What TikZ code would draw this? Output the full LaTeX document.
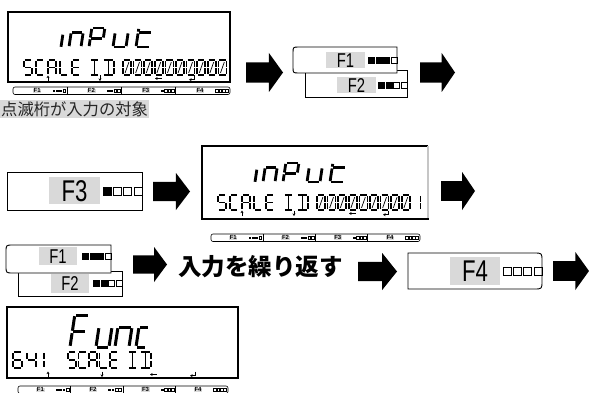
\documentclass[tikz,border=0pt]{standalone}
\usepackage{fontspec}
\setmainfont{Liberation Sans}
\newfontfamily\narrowf[FakeStretch=0.74]{Liberation Sans}
\newfontfamily\jpf{Noto Sans CJK JP}
\usetikzlibrary{arrows.meta}
\tikzset{
  seg/.style={line width=1.7pt},
  bigfont/.style={xslant=0.15, seg/.style={line width=2.8pt}},
  hugefont/.style={xslant=0.15, seg/.style={line width=3pt}},
  keyline/.style={draw=black, line width=0.9pt},
  keyfill/.style={fill=white, draw=none},
  keytext/.style={font=\narrowf\fontsize{30}{30}\selectfont, inner sep=0pt},
  keytextsm/.style={font=\narrowf\fontsize{20}{20}\selectfont, inner sep=0pt},
  dframe/.style={line width=1.2pt},
  dbottom/.style={line width=2pt},
  kar/.style={line width=0.8pt, -{Stealth[length=2.6pt,width=3pt]}},
  stripline/.style={line width=0.6pt},
  striptext/.style={font=\bfseries\fontsize{6}{6}\selectfont, fill=gray!30, inner xsep=0.6pt, inner ysep=0.3pt},
}
% LCD segments (local coords, y up, origin bottom-left)
\newcommand\sgA{\draw[seg] (\segG,\segH)--(\segW-\segG,\segH);}
\newcommand\sgB{\draw[seg] (\segW,\segH-\segG)--(\segW,\segR*\segH+\segG);}
\newcommand\sgC{\draw[seg] (\segW,\segR*\segH-\segG)--(\segW,\segG);}
\newcommand\sgD{\draw[seg] (\segG,0)--(\segW-\segG,0);}
\newcommand\sgE{\draw[seg] (0,\segG)--(0,\segR*\segH-\segG);}
\newcommand\sgF{\draw[seg] (0,\segR*\segH+\segG)--(0,\segH-\segG);}
\newcommand\sgG{\draw[seg] (\segG,\segR*\segH)--(\segW-\segG,\segR*\segH);}
\newcommand\sgM{\draw[seg] (\segW/2,\segG)--(\segW/2,\segH-\segG);}
\newcommand\sgK{\draw[seg,line width=0.7pt] (\segG+1.2,\segG+1.2)--(\segW-\segG-1.2,\segH-\segG-1.2);}
\newcommand\lcd[6][]{\begin{scope}[shift={(#2,#3)},x=1pt,y=1pt,#1]%
  \def\segW{#4}\def\segH{#5}\def\segR{0.5}\def\segG{0.9}#6\end{scope}}
\newcommand\chS{\sgA\sgF\sgG\sgC\sgD}
\newcommand\chC{\sgA\sgF\sgE\sgD}
\newcommand\chA{\sgA\sgB\sgC\sgE\sgF\sgG}
\newcommand\chL{\sgF\sgE\sgD}
\newcommand\chE{\sgA\sgF\sgG\sgE\sgD}
\newcommand\chI{\sgA\sgD\sgM}
\newcommand\chD{\sgA\sgB\sgC\sgD\sgM}
\newcommand\chZ{\sgA\sgB\sgC\sgD\sgE\sgF\sgK}
\newcommand\chOne{\sgB\sgC}
\newcommand\chSix{\sgA\sgF\sgG\sgE\sgD\sgC}
\newcommand\chFour{\sgF\sgG\sgB\sgC}
% small key arrows: up, down, left, enter at x positions, y centre
\newcommand\keyarrows[5]{%
  \draw[kar] (#1,#5+2.5) -- (#1,#5-3);
  \draw[kar] (#2,#5-3) -- (#2,#5+2.5);
  \draw[kar] (#3+3.5,#5) -- (#3-3,#5);
  \draw[kar] (#4+2.5,#5-3) -- (#4+2.5,#5+1.2) -- (#4-3,#5+1.2);}
% display content "inPut / SCALE ID digits"
\newcommand\inputcontent[1]{%
  \lcd[bigfont]{61}{47}{0}{12.5}{\def\segR{1}\def\segG{0.2}\sgE}
  \lcd[bigfont]{69}{47}{12}{14.5}{\def\segR{1}\sgA\sgC\sgE}
  \lcd[bigfont]{89}{47}{13}{19}{\def\segR{0.45}\sgA\sgB\sgF\sgE\sgG}
  \lcd[bigfont]{113}{47}{13}{14.5}{\def\segR{1}\sgC\sgE\sgD}
  \lcd[bigfont]{136}{47}{14}{19}{\def\segR{0.76}\sgF\sgE\sgG\sgD}
  \lcd{24}{75}{8}{15}{\chS}
  \lcd{36}{75}{8}{15}{\chC}
  \lcd{48}{75}{8}{15}{\chA}
  \lcd{60}{75}{8}{15}{\chL}
  \lcd{72}{75}{8}{15}{\chE}
  \lcd{90}{75}{9}{15}{\chI}
  \lcd{103}{75}{11}{15}{\chD}
  \foreach \qq in {0,...,8}{\lcd{123+\qq*10.6}{75}{8}{15}{\chZ}}
  \lcd{218.4}{75}{8}{15}{#1}
  \keyarrows{48}{100}{158}{192}{78.5}}
% function key strip
\newcommand\fstrip[4]{%
  \pgfmathsetmacro\cwid{(#2-#1)/4}
  \draw[stripline, rounded corners=2pt] (#1,#3) rectangle (#2,#3+7.5);
  \foreach \kk/\nfil in {1/3,2/2,3/1,4/0}{
    \pgfmathsetmacro\xr{#1+\kk*\cwid}
    \ifnum\kk<4 \draw[stripline] (\xr,#3) -- (\xr,#3+7.5);\fi
    \node[striptext] (#4-\kk) at (\xr-30,#3+3.9) {F\kk};
    \foreach \jj in {0,1,2,3}{
      \pgfmathsetmacro\sxl{\xr-1-(4-\jj)*3.4}
      \ifnum\jj<\nfil
        \fill (\sxl,#3+2.6) rectangle ++(2.6,2.6);
      \else
        \draw[line width=0.35pt] (\sxl,#3+2.6) rectangle ++(2.6,2.6);
      \fi}}}
% squares row
\newcommand\sqrow[5]{%
  \foreach \jj in {0,1,2,3}{
    \pgfmathsetmacro\sxl{#1-#3-(3-\jj)*#4}
    \ifnum\jj<#5
      \filldraw[line width=0.7pt] (\sxl,#2-#3/2) rectangle ++(#3,#3);
    \else
      \draw[line width=0.8pt] (\sxl,#2-#3/2) rectangle ++(#3,#3);
    \fi}}
% boxes with rounded left / right sides: [opts]{x1}{y1}{x2}{y2}{r}
\newcommand\boxL[6][]{\path[#1] (#4,#3) -- ({#2+#6},#3) .. controls (#2,#3) .. (#2,{#3+#6}) -- (#2,{#5-#6}) .. controls (#2,#5) .. ({#2+#6},#5) -- (#4,#5) -- cycle;}
\newcommand\boxR[6][]{\path[#1] (#2,#3) -- ({#4-#6},#3) .. controls (#4,#3) .. (#4,{#3+#6}) -- (#4,{#5-#6}) .. controls (#4,#5) .. ({#4-#6},#5) -- (#2,#5) -- cycle;}
% block arrow {xl}{xr}{yc}{H}
\newcommand\barrow[4]{%
  \pgfmathsetmacro\hx{#2-0.38*(#2-#1)}
  \fill (#1,#3-0.26*#4) -- (\hx,#3-0.26*#4) -- (\hx,#3-0.5*#4) -- (#2,#3) -- (\hx,#3+0.5*#4) -- (\hx,#3+0.26*#4) -- (#1,#3+0.26*#4) -- cycle;}
\begin{document}
\begin{tikzpicture}[x=1pt,y=-1pt]
\useasboundingbox (0,0) rectangle (589,393);

% ---------- display 1
\draw[dframe] (8,82) -- (8,12) -- (230,12) -- (230,82);
\draw[dbottom] (7.4,82) -- (230.6,82);
\inputcontent{\chZ}
\fstrip{13}{230}{87}{s1}

\node[fill=gray!30, text=black!85, inner xsep=1pt, inner ysep=0pt, minimum height=18pt, anchor=west,
  font=\jpf\fontsize{16.3}{16.3}\selectfont] (note) at (0,109) {点滅桁が入力の対象};

% ---------- row 1 keys
\barrow{246}{283}{72.5}{39}
% F2 (behind)
\path[keyfill] (305,70) rectangle (407,97);
\fill[gray!30] (337,77) rectangle (376,93);
\node[keytextsm] (r1f2) at (356.5,85.5) {F2};
\sqrow{407}{85}{6}{7.4}{2}
\draw[keyline] (305,70) rectangle (407,97);
% F1 (front)
\boxL[keyfill]{293}{47}{397}{73}{6}
\fill[gray!30] (326,52) rectangle (365,68);
\node[keytextsm] (r1f1) at (345.5,60.5) {F1};
\sqrow{397}{60}{6}{7.4}{3}
\boxL[keyline]{293}{47}{397}{73}{6}
\barrow{420}{455}{72.5}{39}

% ---------- row 2
\draw[keyline] (7,172) rectangle (142,210);
\fill[gray!30] (49,177) rectangle (100,204);
\node[keytext] (r2f3) at (74.5,191) {F3};
\sqrow{142}{191}{8}{10.2}{1}
\draw[keyline] (7,172) rectangle (142,210);
\barrow{153}{190}{191.5}{37}

% ---------- display 2
\draw[dframe] (202,219) -- (202,146) -- (428,146);
\draw[dframe, gray!45] (428,146) -- (428,219);
\draw[dbottom] (201.4,219) -- (428.6,219);
\begin{scope}[shift={(194,135)}]
  \inputcontent{\chOne}
\end{scope}
\fstrip{211}{420}{234}{s2}
\barrow{441}{475}{191}{38}

% ---------- row 3
\path[keyfill] (18,271) rectangle (122,296);
\fill[gray!30] (51,274) rectangle (89,293);
\node[keytextsm] (r3f2) at (70,283.5) {F2};
\sqrow{122}{283}{6}{7.5}{2}
\draw[keyline] (18,271) rectangle (122,296);
\boxL[keyfill]{6}{245}{111}{273}{7}
\fill[gray!30] (39,247) rectangle (77,265);
\node[keytextsm] (r3f1) at (58,256.5) {F1};
\sqrow{111}{256}{6}{7.5}{3}
\boxL[keyline]{6}{245}{111}{273}{7}

\barrow{133}{167}{264.5}{35}
\node[font=\jpf\bfseries\fontsize{23.5}{23.5}\selectfont, anchor=west, inner sep=0pt] (rep) at (178,267) {入力を繰り返す};
\barrow{358}{397}{271.5}{37}

\boxR[keyfill]{408}{253}{542}{289}{8}
\fill[gray!30] (450,257) rectangle (500,285);
\node[keytext] (r3f4) at (475,271) {F4};
\sqrow{542}{271}{8}{10.2}{0}
\boxR[keyline]{408}{253}{542}{289}{8}
\barrow{553}{589}{271}{38}

% ---------- display 3
\draw[dframe] (7,378) -- (7,307) -- (238,307) -- (238,378);
\draw[dbottom] (6.4,378) -- (238.6,378);
\lcd[hugefont]{70}{347}{14}{32}{\def\segR{0.47}\def\segG{1.2}\sgA\sgF\sgE\sgG}
\lcd[hugefont]{96}{347}{13}{20}{\def\segR{1}\def\segG{1.2}\sgC\sgE\sgD}
\lcd[hugefont]{115}{347}{14}{20}{\def\segR{1}\def\segG{1.2}\sgA\sgC\sgE}
\lcd[hugefont]{136}{347}{10}{20}{\def\segR{1}\def\segG{1.2}\sgA\sgE\sgD}
\lcd{13}{368}{9}{16}{\chSix}
\lcd{27}{368}{9}{16}{\chFour}
\lcd{44}{368}{0}{16}{\chOne}
\lcd{68}{368}{8}{16}{\chS}
\lcd{78.5}{368}{8}{16}{\chC}
\lcd{89}{368}{8}{16}{\chA}
\lcd{99.5}{368}{8}{16}{\chL}
\lcd{110}{368}{8}{16}{\chE}
\lcd{128}{368}{9}{16}{\chI}
\lcd{140}{368}{11}{16}{\chD}
\keyarrows{48}{102}{153}{193}{374.5}
\fstrip{18}{228}{386}{s3}
\end{tikzpicture}
\end{document}
